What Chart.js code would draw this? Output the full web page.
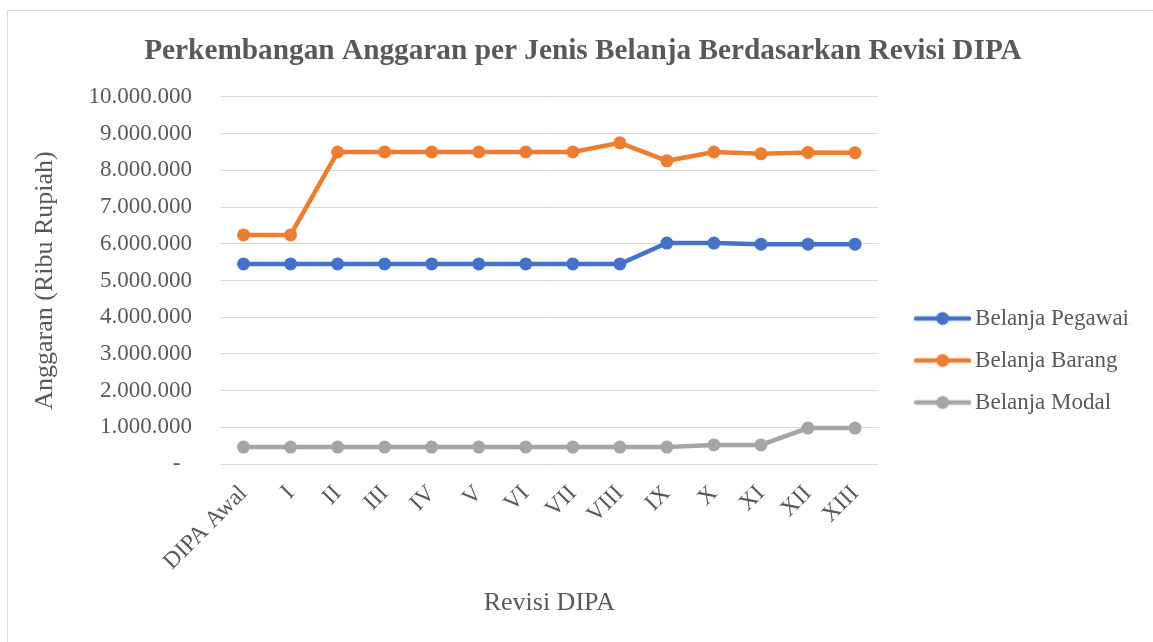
<!DOCTYPE html>
<html>
<head>
<meta charset="utf-8">
<script src="https://cdn.jsdelivr.net/npm/chart.js@4"></script>
<style>
  body { margin: 0; background: #fff; }
  #frame { position: absolute; left: 7px; top: 10px; width: 1160px; height: 650px; border: 1px solid #d9d9d9; }
  #chart { position: absolute; left: 0; top: 0; }
</style>
</head>
<body>
<div id="frame"></div>
<canvas id="chart" width="1153" height="642"></canvas>
<script>
  var categories = ['DIPA Awal', 'I', 'II', 'III', 'IV', 'V', 'VI', 'VII', 'VIII', 'IX', 'X', 'XI', 'XII', 'XIII'];
  var seriesNames = ['Belanja Pegawai', 'Belanja Barang', 'Belanja Modal'];
  var pegawai = [5450000, 5450000, 5450000, 5450000, 5450000, 5450000, 5450000, 5450000, 5450000, 6020000, 6020000, 5990000, 5990000, 5990000];
  var barang = [6240000, 6240000, 8500000, 8500000, 8500000, 8500000, 8500000, 8500000, 8750000, 8260000, 8500000, 8450000, 8490000, 8480000];
  var modal = [460000, 460000, 460000, 460000, 460000, 460000, 460000, 460000, 460000, 460000, 520000, 520000, 980000, 980000];
  var colors = ['#4472C4', '#ED7D31', '#A5A5A5'];

  var serif = "'Liberation Serif', 'Times New Roman', serif";
  var textColor = '#595959';

  // legend swatch: line with a dot, like the spreadsheet legend
  function swatch(color) {
    var c = document.createElement('canvas');
    c.width = 81; c.height = 16;
    var g = c.getContext('2d');
    g.strokeStyle = color; g.lineWidth = 4.5; g.lineCap = 'round';
    g.beginPath(); g.moveTo(c.width - 55, 8); g.lineTo(c.width - 2, 8); g.stroke();
    g.fillStyle = color;
    g.beginPath(); g.arc(c.width - 28.5, 8, 6.5, 0, Math.PI * 2); g.fill();
    return c;
  }
  var swatches = colors.map(swatch);

  function dotted(v) {
    if (v === 0) return '-  ';
    return String(v).replace(/\B(?=(\d{3})+(?!\d))/g, '.');
  }

  var allData = [pegawai, barang, modal];
  var datasets = seriesNames.map(function (name, i) {
    return {
      label: name,
      data: allData[i],
      borderColor: colors[i],
      backgroundColor: colors[i],
      borderWidth: 4.5,
      pointRadius: 6.5,
      pointHoverRadius: 6.5,
      pointBorderWidth: 0,
      pointBackgroundColor: colors[i],
      tension: 0
    };
  });

  var chart = new Chart(document.getElementById('chart'), {
    type: 'line',
    data: { labels: categories, datasets: datasets },
    options: {
      responsive: false,
      animation: false,
      layout: { padding: { left: 27, right: 14, top: 0, bottom: 19 } },
      plugins: {
        title: {
          display: true,
          text: 'Perkembangan Anggaran per Jenis Belanja Berdasarkan Revisi DIPA',
          color: textColor,
          font: { family: serif, size: 29.3, weight: 'bold' },
          padding: { top: 33.4, bottom: 28.4 }
        },
        legend: {
          position: 'right',
          title: { display: true, text: ' ', font: { size: 10 }, padding: { top: 86, bottom: 0 } },
          labels: {
            usePointStyle: true,
            pointStyleWidth: 66,
            padding: 19,
            color: textColor,
            font: { family: serif, size: 23 },
            generateLabels: function (ch) {
              var items = Chart.defaults.plugins.legend.labels.generateLabels(ch);
              items.forEach(function (it, i) { it.pointStyle = swatches[i]; });
              return items;
            }
          }
        },
        tooltip: { enabled: false }
      },
      scales: {
        x: {
          offset: true,
          grid: { display: false },
          border: { display: false },
          ticks: { color: textColor, font: { family: serif, size: 23.5 }, minRotation: 45, maxRotation: 45, padding: 8 },
          title: { display: true, text: 'Revisi DIPA', color: textColor, font: { family: serif, size: 26 }, padding: { top: 0, bottom: 4 } },
          afterFit: function (s) { s.height = 159; }
        },
        y: {
          min: 0,
          max: 10000000,
          grid: { color: '#d9d9d9', lineWidth: 1, drawTicks: false },
          border: { display: false },
          ticks: { stepSize: 1000000, color: textColor, font: { family: serif, size: 23 }, padding: 28, callback: function (v) { return dotted(v); } },
          title: { display: true, text: 'Anggaran (Ribu Rupiah)', color: textColor, font: { family: serif, size: 26 }, padding: { top: 2.4, bottom: 0 } },
          afterFit: function (s) { s.width = 193; }
        }
      }
    }
  });
</script>
</body>
</html>
